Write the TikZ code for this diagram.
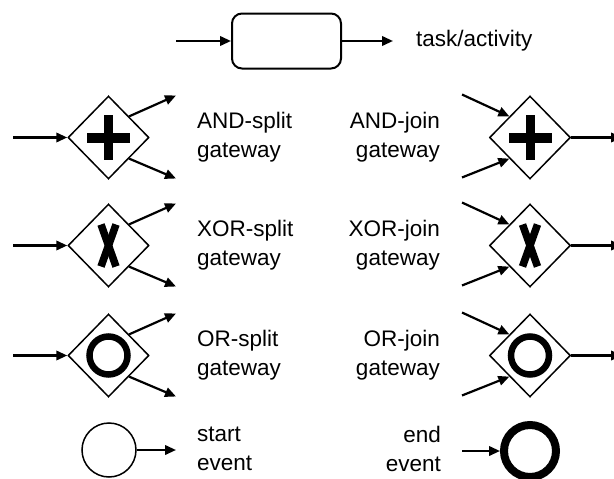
\documentclass[tikz,border=0pt]{standalone}
\usepackage{fontspec}
\setmainfont{Liberation Sans}
\usetikzlibrary{shapes.geometric,arrows.meta,calc}
\begin{document}
\begin{tikzpicture}[x=1pt,y=-1pt,
  gate/.style={draw,diamond,minimum width=81pt,minimum height=83pt,inner sep=0pt,line width=1.5pt},
  arr/.style={line width=2.2pt,-{Triangle[length=11pt,width=9.5pt]}},
  lbl/.style={font=\fontsize{22.5}{29}\selectfont,inner sep=0pt},
  symline/.style={line width=7.5pt},
  symring/.style={line width=6.5pt}]
\useasboundingbox (0,0) rectangle (614,479);
\clip (0,0) rectangle (614,479);

% task / activity
\node[draw,rounded corners=10pt,line width=2pt,minimum width=109pt,minimum height=55pt] (task) at (286.5,41) {};
\coordinate (taskin) at (176,41);
\coordinate (taskout) at (393,41);
\draw[arr] (taskin) -- (task.west);
\draw[arr] (task.east) -- (taskout);
\node[lbl,anchor=west] (tasklbl) at (416,41) {task/activity};

% gateways: split on the left, join on the right
\foreach \r/\y/\a/\b in {1/137.5/AND-split/AND-join,2/245.5/XOR-split/XOR-join,3/355.5/OR-split/OR-join}{
  \node[gate] (s\r) at (108.5,\y) {};
  \node[gate] (j\r) at (530,\y) {};
  \coordinate (sin\r) at (13,\y);
  \coordinate (sup\r) at (176,\y-42);
  \coordinate (sdn\r) at (176,\y+41);
  \coordinate (jup\r) at (462,\y-43);
  \coordinate (jdn\r) at (462,\y+40);
  \coordinate (jout\r) at (622,\y);
  \draw[arr] (sin\r) -- (s\r.west);
  \draw[arr] (s\r.north east) -- (sup\r);
  \draw[arr] (s\r.south east) -- (sdn\r);
  \draw[arr] (jup\r) -- (j\r.north west);
  \draw[arr] (jdn\r) -- (j\r.south west);
  \draw[arr] (j\r.east) -- (jout\r);
  \node[lbl,anchor=west,align=left] (sl\r) at (197,\y) {\a\\gateway};
  \node[lbl,anchor=east,align=right] (jl\r) at (440,\y) {\b\\gateway};
}

% AND markers
\foreach \g in {s1,j1}{
  \fill ($(\g.center)+(-21.5,-5)$) rectangle ++(43,10);
  \fill ($(\g.center)+(-4.5,-22.5)$) rectangle ++(9,45);
}
% XOR markers
\foreach \g in {s2,j2}{
  \draw[symline] ($(\g.center)+(-7.5,-21)$) -- ($(\g.center)+(7.5,21)$);
  \draw[symline] ($(\g.center)+(7.5,-21)$) -- ($(\g.center)+(-7.5,21)$);
}
% OR markers
\foreach \g in {s3,j3}{
  \draw[symring] (\g.center) circle[radius=19];
}

% events
\node[draw,circle,line width=1.5pt,minimum size=54pt,inner sep=0pt] (start) at (109,450) {};
\coordinate (startout) at (176,450);
\draw[arr] (start.east) -- (startout);
\node[lbl,anchor=west,align=left] (startlbl) at (197,449) {start\\event};

\node[draw,circle,line width=8pt,minimum size=52pt,inner sep=0pt] (end) at (530,451) {};
\coordinate (endin) at (462,451);
\draw[arr] (endin) -- (end.west);
\node[lbl,anchor=east,align=right] (endlbl) at (441,449) {end\\event};
\end{tikzpicture}
\end{document}
